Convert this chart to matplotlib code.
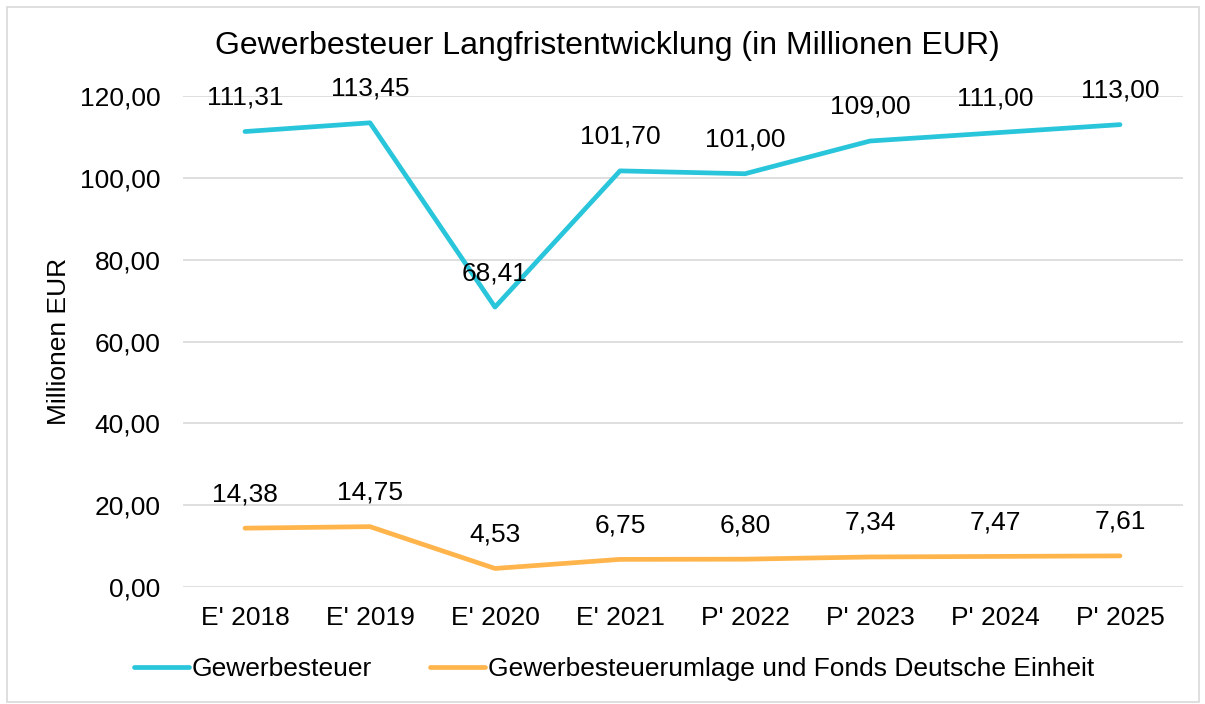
import matplotlib
matplotlib.use("Agg")
import matplotlib.pyplot as plt
from matplotlib.patches import Rectangle

categories = ["E' 2018", "E' 2019", "E' 2020", "E' 2021", "P' 2022", "P' 2023", "P' 2024", "P' 2025"]
gewerbesteuer = [111.31, 113.45, 68.41, 101.70, 101.00, 109.00, 111.00, 113.00]
umlage = [14.38, 14.75, 4.53, 6.75, 6.80, 7.34, 7.47, 7.61]
series_names = ["Gewerbesteuer", "Gewerbesteuerumlage und Fonds Deutsche Einheit"]
colors = ["#29C5DA", "#FFB54C"]

plt.rcParams['font.family'] = ['Liberation Sans', 'DejaVu Sans']
FS = 19

fig = plt.figure(figsize=(12.05, 7.04), dpi=100)
ax = fig.add_axes([182.5/1205, 1-587/704, 1000/1205, (587-96)/704])

x = list(range(len(categories)))
for vals, name, c in zip([gewerbesteuer, umlage], series_names, colors):
    ax.plot(x, vals, color=c, lw=3.4, solid_capstyle='round', label=name)
    for xi, v in zip(x, vals):
        ax.annotate(f"{v:.2f}".replace('.', ','), (xi, v), xytext=(0, 24.5),
                    textcoords='offset points', ha='center', va='center', fontsize=FS)

ax.set_xlim(-0.5, len(categories) - 0.5)
ax.set_ylim(0, 120)
ax.set_yticks(range(0, 121, 20))
ax.set_yticklabels([f"{t},00" for t in range(0, 121, 20)])
ax.set_xticks(x)
ax.set_xticklabels(categories)
ax.tick_params(length=0, labelsize=FS, pad=14)
ax.tick_params(axis='y', pad=16)
ax.grid(axis='y', color='#D9D9D9', lw=1.2)
ax.set_axisbelow(True)
for s in ax.spines.values():
    s.set_visible(False)
ax.set_ylabel("Millionen EUR", fontsize=FS, labelpad=6)

fig.text(607/1205, 1-46/704, "Gewerbesteuer Langfristentwicklung (in Millionen EUR)", ha='center', va='center', fontsize=23)

leg = fig.legend(loc='center', bbox_to_anchor=(614/1205, 1-669/704), ncol=2, frameon=False,
                 fontsize=FS, handlelength=2.1, handletextpad=0.1, columnspacing=2.2)

fig.patches.append(Rectangle((7/1205, 1-702/704), 1192/1205, 695/704, transform=fig.transFigure,
                             fill=False, edgecolor='#D9D9D9', lw=1.2))

fig.savefig("out.png", dpi=100)
